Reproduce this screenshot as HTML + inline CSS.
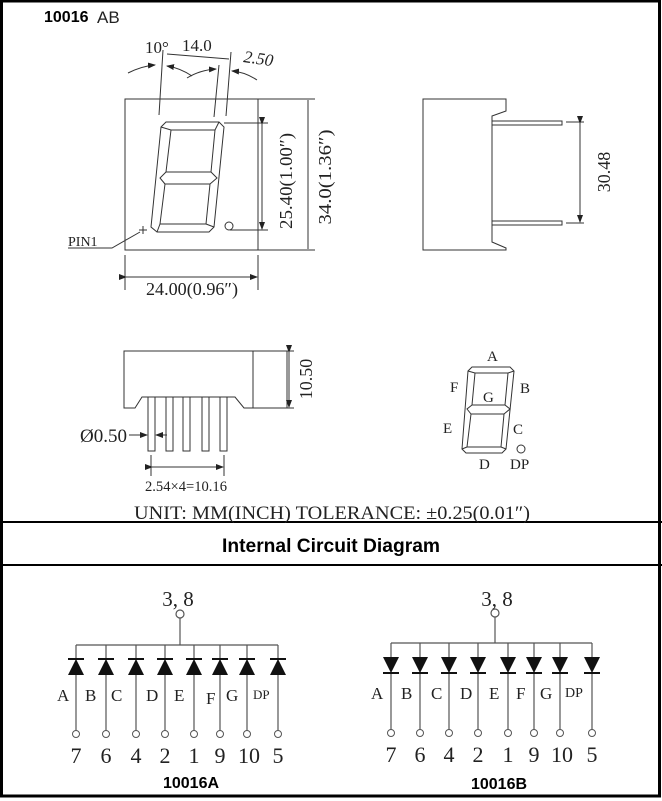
<!DOCTYPE html>
<html><head><style>
html,body{margin:0;padding:0;background:#fff;}
svg{display:block;}
text{font-family:"Liberation Serif",serif;fill:#222;}
.s{font-family:"Liberation Sans",sans-serif;font-weight:bold;fill:#000;}
</style></head><body>
<svg width="662" height="801" viewBox="0 0 662 801" xmlns="http://www.w3.org/2000/svg">
<defs>
<marker id="ar" markerWidth="8" markerHeight="6" refX="7" refY="3" orient="auto" markerUnits="userSpaceOnUse"><path d="M0,0 L8,3 L0,6 Z" fill="#222"/></marker>
</defs>
<rect x="1.5" y="1" width="658" height="795" fill="none" stroke="#000" stroke-width="3"/>
<line x1="0" y1="522" x2="662" y2="522" stroke="#000" stroke-width="2"/>
<line x1="0" y1="565" x2="662" y2="565" stroke="#000" stroke-width="2"/>
<text x="44" y="22" class="s" font-size="16">10016</text><text x="97" y="23" font-size="17" style="font-family:'Liberation Sans Narrow','Liberation Sans',sans-serif">AB</text>

<g stroke="#333" stroke-width="1" fill="none">
<rect x="125" y="99" width="133" height="151"/>
<path d="M166,122 L219,122 L224,127 L214,227 L209,232 L157,232 L151,227 L161,127 Z"/>
<path d="M171,130 L215,130 L211,172 L166,172 Z"/>
<path d="M165,184 L210,184 L206,224 L160,224 Z"/>
<path d="M161,127 L171,130 M219,122 L215,130 M157,232 L160,224 M214,227 L206,224 M166,172 L160,178 L165,184 M211,172 L217,178 L210,184 M166,172 L211,172"/>
<circle cx="229" cy="226" r="4"/>
<path d="M139,230 L147,230 M143,226 L143,234"/>
<path d="M68,248 L112,248 L140,232"/>
<line x1="159" y1="115" x2="163" y2="50"/>
<line x1="214" y1="117" x2="219" y2="65"/>
<line x1="226" y1="116" x2="231" y2="52"/>
<line x1="167" y1="54" x2="229" y2="59"/>
<path d="M128,73 Q142,66 155,65" marker-end="url(#ar)"/>
<path d="M192,76 Q180,68 167,66" marker-end="url(#ar)"/>
<path d="M187,78 Q200,70 216,69" marker-end="url(#ar)"/>
<path d="M257,80 Q245,72 232,71" marker-end="url(#ar)"/>
<line x1="224" y1="123" x2="268" y2="123"/>
<line x1="230" y1="230" x2="268" y2="230"/>
<line x1="262" y1="124" x2="262" y2="229" marker-start="url(#ar)" marker-end="url(#ar)"/>
<line x1="258" y1="99" x2="315" y2="99"/>
<line x1="258" y1="250" x2="315" y2="250"/>
<line x1="308" y1="100" x2="308" y2="249"/>
<line x1="125" y1="255" x2="125" y2="290"/>
<line x1="258" y1="255" x2="258" y2="290"/>
<line x1="126" y1="277" x2="257" y2="277" marker-start="url(#ar)" marker-end="url(#ar)"/>
<path d="M423,99 L506,99 L506,111 L492,116 L492,242 L506,248 L506,250 L423,250 Z"/>
<rect x="492" y="121" width="70" height="4"/>
<rect x="492" y="221" width="70" height="4"/>
<line x1="566" y1="122" x2="584" y2="122"/>
<line x1="566" y1="223" x2="584" y2="223"/>
<line x1="580" y1="123" x2="580" y2="222" marker-start="url(#ar)" marker-end="url(#ar)"/>
<path d="M124,351 L253,351 L253,408 L244,408 L235,397 L142,397 L135,408 L124,408 Z"/>
<rect x="253" y="351" width="34" height="57"/>
<line x1="287" y1="351" x2="294" y2="351"/>
<line x1="287" y1="408" x2="294" y2="408"/>
<line x1="289" y1="352" x2="289" y2="407" marker-start="url(#ar)" marker-end="url(#ar)"/>
<rect x="148" y="397" width="7" height="54"/>
<rect x="166" y="397" width="7" height="54"/>
<rect x="183" y="397" width="7" height="54"/>
<rect x="202" y="397" width="7" height="54"/>
<rect x="220" y="397" width="7" height="54"/>
<line x1="129" y1="435" x2="147" y2="435" marker-end="url(#ar)"/>
<line x1="167" y1="435" x2="156" y2="435" marker-end="url(#ar)"/>
<line x1="151" y1="455" x2="151" y2="476"/>
<line x1="224" y1="455" x2="224" y2="476"/>
<line x1="152" y1="467" x2="223" y2="467" marker-start="url(#ar)" marker-end="url(#ar)"/>
<path d="M472,367 L510,367 L514,371 L506,449 L502,453 L466,453 L462,449 L468,371 Z"/>
<path d="M475,373 L508,373 L505,405 L472,405 Z"/>
<path d="M471,414 L504,414 L501,447 L467,447 Z"/>
<path d="M468,371 L475,373 M514,371 L508,373 M462,449 L467,447 M506,449 L501,447 M472,405 L467,409 L471,414 M505,405 L510,409 L504,414"/>
<circle cx="521" cy="449" r="4"/>
</g>
<text x="145" y="53" font-size="17">10°</text>
<text x="182" y="51" font-size="17">14.0</text>
<text x="243" y="62" font-size="17" font-style="italic" transform="rotate(8 243 62)">2.50</text>
<text x="68" y="246" font-size="14">PIN1</text>
<text transform="translate(292,181) rotate(-90)" text-anchor="middle" font-size="18" textLength="96" lengthAdjust="spacingAndGlyphs">25.40(1.00″)</text>
<text transform="translate(331,177) rotate(-90)" text-anchor="middle" font-size="18" textLength="95" lengthAdjust="spacingAndGlyphs">34.0(1.36″)</text>
<text x="192" y="295" text-anchor="middle" font-size="18" textLength="92" lengthAdjust="spacingAndGlyphs">24.00(0.96″)</text>
<text transform="translate(610,172) rotate(-90)" text-anchor="middle" font-size="18">30.48</text>
<text transform="translate(312,379) rotate(-90)" text-anchor="middle" font-size="18">10.50</text>
<text x="80" y="442" font-size="19">Ø0.50</text>
<text x="145" y="491" font-size="15" textLength="82" lengthAdjust="spacingAndGlyphs">2.54×4=10.16</text>
<g font-size="15">
<text x="487" y="361">A</text><text x="450" y="392">F</text><text x="520" y="393">B</text>
<text x="483" y="402">G</text><text x="443" y="433">E</text><text x="513" y="434">C</text>
<text x="479" y="469">D</text><text x="510" y="469">DP</text>
</g>
<text x="332" y="519" text-anchor="middle" font-size="19" textLength="396" lengthAdjust="spacingAndGlyphs">UNIT: MM(INCH)  TOLERANCE: ±0.25(0.01″)</text>
<text x="331" y="552" text-anchor="middle" class="s" font-size="19" textLength="218" lengthAdjust="spacingAndGlyphs">Internal Circuit Diagram</text>

<g stroke="#555" stroke-width="1.2" fill="none">
<circle cx="180" cy="614" r="4"/>
<line x1="180" y1="618" x2="180" y2="645"/>
<line x1="76" y1="645" x2="278" y2="645"/>
</g>
<text x="178" y="606" text-anchor="middle" font-size="21">3, 8</text>
<g stroke="#555" stroke-width="1.2">
<path d="M76,645V731M106,645V731M136,645V731M165,645V731M194,645V731M220,645V731M247,645V731M278,645V731"/>
<path d="M68,659H84M98,659H114M128,659H144M157,659H173M186,659H202M212,659H228M239,659H255M270,659H286" stroke="#111" stroke-width="2"/>
</g>
<g fill="#111">
<path d="M76,659L68,675H84Z"/><path d="M106,659L98,675H114Z"/><path d="M136,659L128,675H144Z"/><path d="M165,659L157,675H173Z"/>
<path d="M194,659L186,675H202Z"/><path d="M220,659L212,675H228Z"/><path d="M247,659L239,675H255Z"/><path d="M278,659L270,675H286Z"/>
</g>
<g fill="#fff" stroke="#555">
<circle cx="76" cy="734" r="3.5"/><circle cx="106" cy="734" r="3.5"/><circle cx="136" cy="734" r="3.5"/><circle cx="165" cy="734" r="3.5"/>
<circle cx="194" cy="734" r="3.5"/><circle cx="220" cy="734" r="3.5"/><circle cx="247" cy="734" r="3.5"/><circle cx="278" cy="734" r="3.5"/>
</g>
<g font-size="17">
<text x="57" y="701">A</text><text x="85" y="701">B</text><text x="111" y="701">C</text><text x="146" y="701">D</text>
<text x="174" y="701">E</text><text x="206" y="704">F</text><text x="226" y="701">G</text><text x="253" y="699" font-size="13">DP</text>
</g>
<g font-size="22" text-anchor="middle">
<text x="76" y="763">7</text><text x="106" y="763">6</text><text x="136" y="763">4</text><text x="165" y="763">2</text>
<text x="194" y="763">1</text><text x="220" y="763">9</text><text x="249" y="763">10</text><text x="278" y="763">5</text>
</g>
<text x="191" y="788" text-anchor="middle" class="s" font-size="16">10016A</text>

<g stroke="#555" stroke-width="1.2" fill="none">
<circle cx="495" cy="613" r="4"/>
<line x1="495" y1="617" x2="495" y2="643"/>
<line x1="391" y1="643" x2="592" y2="643"/>
<path d="M391,643V730M420,643V730M449,643V730M478,643V730M508,643V730M534,643V730M560,643V730M592,643V730"/>
</g>
<text x="497" y="606" text-anchor="middle" font-size="21">3, 8</text>
<g stroke="#111" stroke-width="2">
<path d="M383,673H399M412,673H428M441,673H457M470,673H486M500,673H516M526,673H542M552,673H568M584,673H600"/>
</g>
<g fill="#111">
<path d="M383,657H399L391,673Z"/><path d="M412,657H428L420,673Z"/><path d="M441,657H457L449,673Z"/><path d="M470,657H486L478,673Z"/>
<path d="M500,657H516L508,673Z"/><path d="M526,657H542L534,673Z"/><path d="M552,657H568L560,673Z"/><path d="M584,657H600L592,673Z"/>
</g>
<g fill="#fff" stroke="#555">
<circle cx="391" cy="733" r="3.5"/><circle cx="420" cy="733" r="3.5"/><circle cx="449" cy="733" r="3.5"/><circle cx="478" cy="733" r="3.5"/>
<circle cx="508" cy="733" r="3.5"/><circle cx="534" cy="733" r="3.5"/><circle cx="560" cy="733" r="3.5"/><circle cx="592" cy="733" r="3.5"/>
</g>
<g font-size="17">
<text x="371" y="699">A</text><text x="401" y="699">B</text><text x="431" y="699">C</text><text x="460" y="699">D</text>
<text x="489" y="699">E</text><text x="516" y="699">F</text><text x="540" y="699">G</text><text x="565" y="697" font-size="14">DP</text>
</g>
<g font-size="22" text-anchor="middle">
<text x="391" y="762">7</text><text x="420" y="762">6</text><text x="449" y="762">4</text><text x="478" y="762">2</text>
<text x="508" y="762">1</text><text x="534" y="762">9</text><text x="562" y="762">10</text><text x="592" y="762">5</text>
</g>
<text x="499" y="789" text-anchor="middle" class="s" font-size="16">10016B</text>
</svg>
</body></html>
